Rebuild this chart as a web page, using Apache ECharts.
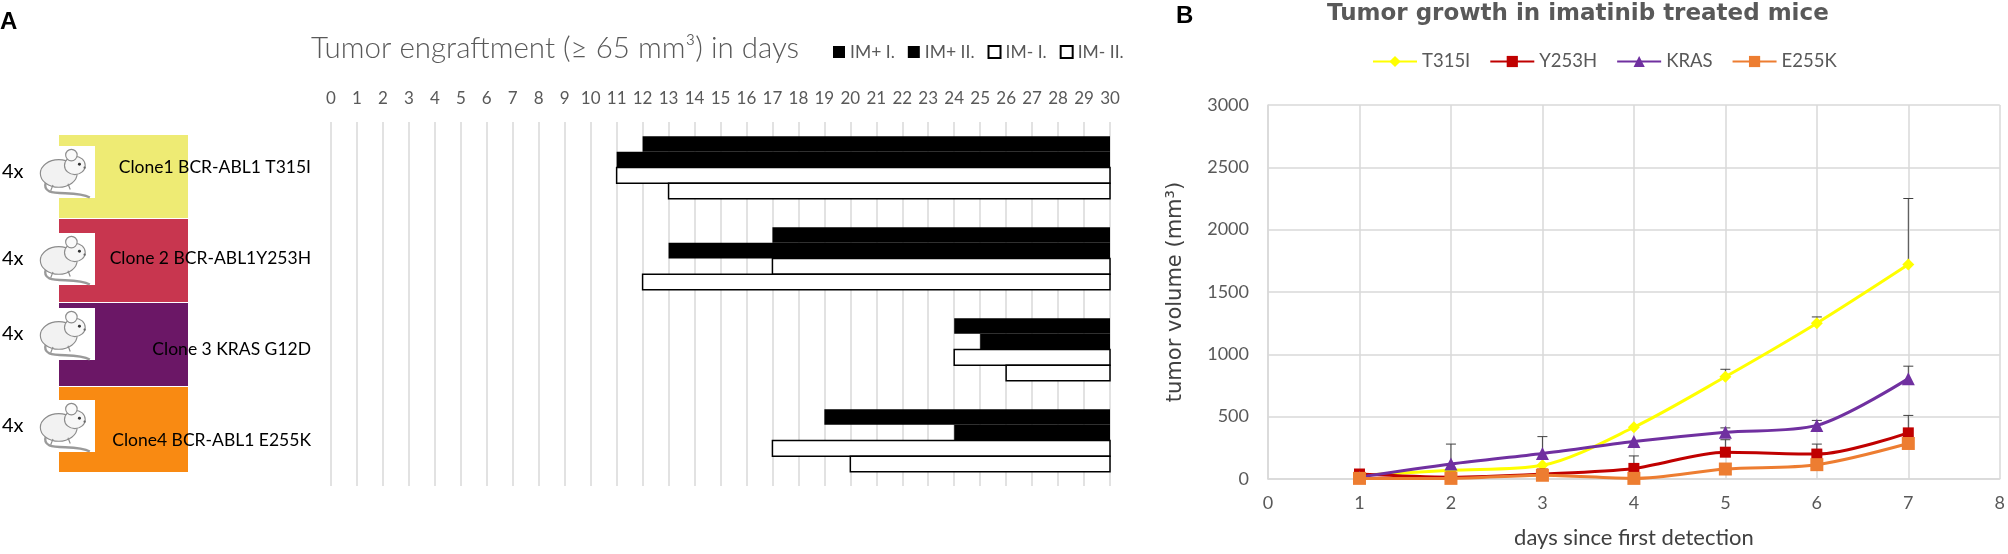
<!DOCTYPE html>
<html>
<head>
<meta charset="utf-8">
<script src="https://cdn.jsdelivr.net/npm/echarts@6/dist/echarts.min.js"></script>
<style>html,body{margin:0;background:#fff}#main{width:2008px;height:554px}</style>
</head>
<body>
<div id="main"></div>
<script>
// Panel A: engraftment day per clone (all bars run to day 30)
const clones = ['Clone1 BCR-ABL1 T315I', 'Clone 2 BCR-ABL1Y253H', 'Clone 3 KRAS G12D', 'Clone4 BCR-ABL1 E255K'];
const imPlusIStart = [12, 17, 24, 19];
const imPlusIIStart = [11, 13, 25, 24];
const imMinusIStart = [11, 17, 24, 17];
const imMinusIIStart = [13, 12, 26, 20];
const engraftEnd = [30, 30, 30, 30];

// Panel B: tumor volume (mm3), mean and upper error
const detectionDays = [1, 2, 3, 4, 5, 6, 7];
const t315i = [30, 70, 110, 415, 820, 1250, 1720];
const t315iErr = [30, 0, 0, 0, 60, 50, 530];
const y253h = [40, 15, 40, 85, 215, 200, 370];
const y253hErr = [20, 0, 0, 100, 100, 80, 140];
const kras = [15, 120, 205, 300, 375, 430, 805];
const krasErr = [0, 160, 135, 0, 35, 40, 100];
const e255k = [5, 5, 30, 5, 80, 115, 285];
const e255kErr = [0, 0, 0, 0, 0, 0, 0];

const grey = '#595959';

function ganttSeries(name, starts, row, filled) {
  return {
    type: 'custom', name: name, xAxisIndex: 0, yAxisIndex: 0,
    data: starts.map((s, i) => [i, s, engraftEnd[i]]),
    encode: {x: [1, 2], y: 0},
    itemStyle: filled ? {color: '#000'} : {color: '#fff', borderColor: '#000', borderWidth: 1.5},
    renderItem: function (params, api) {
      const a = api.coord([api.value(1), api.value(0)]);
      const b = api.coord([api.value(2), api.value(0)]);
      const h = api.size([0, 1])[1] * 0.172;
      return {
        type: 'rect',
        shape: {x: a[0], y: a[1] - 2 * h + row * h, width: b[0] - a[0], height: h},
        style: filled ? {fill: '#000'} : {fill: '#fff', stroke: '#000', lineWidth: 1.5}
      };
    }
  };
}

function lineSeries(name, values, color, symbol, size) {
  return {
    type: 'line', name: name, xAxisIndex: 1, yAxisIndex: 1, z: 3,
    data: detectionDays.map((d, i) => [d, values[i]]),
    smooth: 0.3, symbol: symbol, symbolSize: size,
    lineStyle: {width: 3, color: color}, itemStyle: {color: color}
  };
}

function errSeries(values, errs) {
  return {
    type: 'custom', xAxisIndex: 1, yAxisIndex: 1, silent: true, z: 2,
    data: detectionDays.map((d, i) => [d, values[i], values[i] + errs[i]]),
    encode: {x: 0, y: [1, 2]},
    renderItem: function (params, api) {
      const lo = api.coord([api.value(0), api.value(1)]);
      const hi = api.coord([api.value(0), api.value(2)]);
      if (lo[1] - hi[1] < 1) return null;
      const st = {stroke: '#404040', lineWidth: 1};
      return {type: 'group', children: [
        {type: 'line', shape: {x1: lo[0], y1: lo[1], x2: hi[0], y2: hi[1]}, style: st},
        {type: 'line', shape: {x1: hi[0] - 5, y1: hi[1], x2: hi[0] + 5, y2: hi[1]}, style: st}
      ]};
    }
  };
}

// little lab mouse drawn from shapes
function mouse(x, y) {
  const line = {stroke: '#8c8c8c', lineWidth: 1};
  const parts = [
    {type: 'bezierCurve', shape: {x1: 14, y1: 30, cpx1: 8, cpy1: 46, cpx2: 38, cpy2: 36, x2: 52, y2: 44}, style: {stroke: '#9a9a9a', lineWidth: 2, fill: null}},
    {type: 'ellipse', shape: {cx: 25, cy: 23, rx: 16, ry: 12}, style: Object.assign({fill: '#f2f2f2'}, line)},
    {type: 'line', shape: {x1: 20, y1: 33, x2: 18, y2: 38}, style: line},
    {type: 'line', shape: {x1: 33, y1: 32, x2: 35, y2: 37}, style: line},
    {type: 'ellipse', shape: {cx: 39, cy: 16, rx: 9, ry: 8}, style: Object.assign({fill: '#f7f7f7'}, line)},
    {type: 'circle', shape: {cx: 36, cy: 7, r: 5}, style: Object.assign({fill: '#fafafa'}, line)},
    {type: 'circle', shape: {cx: 43, cy: 15, r: 1.3}, style: {fill: '#333'}},
    {type: 'circle', shape: {cx: 47.5, cy: 18, r: 1}, style: {fill: '#666'}}
  ];
  parts.forEach(p => { p.z = 5; });
  return {type: 'group', x: x, y: y, scaleX: 1.15, scaleY: 1.15, children: parts};
}

const blockColors = ['#eeeb74', '#c8364f', '#6b1766', '#f98a12'];
const blockTops = [135, 219, 303, 387];
const notchTops = [146, 233, 308, 400];
const graphics = [];
blockColors.forEach((c, i) => {
  graphics.push({type: 'rect', z: 1, shape: {x: 59, y: blockTops[i], width: 129, height: i === 3 ? 85 : 83}, style: {fill: c}});
  graphics.push({type: 'rect', z: 2, shape: {x: 59, y: notchTops[i], width: 36, height: 52}, style: {fill: '#fff'}});
  graphics.push(mouse(30, notchTops[i] + 1));
  graphics.push({type: 'text', z: 5, x: 2, y: notchTops[i] + 26, style: {text: '4x', fontSize: 20, fontFamily: 'Lato', fill: '#000', verticalAlign: 'middle'}});
});

const myChart = echarts.init(document.getElementById('main'));

const option = {
  animation: false,
  backgroundColor: '#fff',
  textStyle: {fontFamily: 'Lato'},
  title: [
    {text: 'A', left: 0, top: 10, padding: 0, textStyle: {fontFamily: 'Liberation Sans', fontWeight: 'bold', fontSize: 24, color: '#000'}},
    {text: 'Tumor engraftment (≥ 65 mm³) in days', left: 311, top: 33, padding: 0,
      textStyle: {fontFamily: 'Lato', fontWeight: 300, fontSize: 29.5, color: grey}},
    {text: 'B', left: 1176, top: 4, padding: 0, textStyle: {fontFamily: 'Liberation Sans', fontWeight: 'bold', fontSize: 24, color: '#000'}},
    {text: 'Tumor growth in imatinib treated mice', left: 1327, top: 3, padding: 0,
      textStyle: {fontFamily: 'DejaVu Sans', fontWeight: 'bold', fontSize: 23, color: grey}}
  ],
  legend: [
    {left: 833, top: 43, padding: 0, itemWidth: 12, itemHeight: 12, itemGap: 13,
      textStyle: {fontFamily: 'Lato', fontSize: 17.5, color: grey},
      data: [
        {name: 'IM+ I.', icon: 'rect'}, {name: 'IM+ II.', icon: 'rect'},
        {name: 'IM- I.', icon: 'rect'}, {name: 'IM- II.', icon: 'rect'}
      ]},
    {left: 1372, top: 52, padding: 0, itemWidth: 44, itemHeight: 14, itemGap: 19,
      textStyle: {fontFamily: 'Lato', fontSize: 18.5, color: grey},
      data: ['T315I', 'Y253H', 'KRAS', 'E255K']}
  ],
  grid: [
    {left: 331, top: 122, width: 779, height: 364},
    {left: 1268, top: 105, width: 733, height: 376}
  ],
  xAxis: [
    {gridIndex: 0, type: 'value', position: 'top', min: 0, max: 30, interval: 1,
      axisLine: {show: false}, axisTick: {show: false},
      axisLabel: {margin: 15, fontFamily: 'Lato', fontSize: 17, color: grey},
      splitLine: {show: true, lineStyle: {color: '#d9d9d9', width: 1.5}}},
    {gridIndex: 1, type: 'value', min: 0, max: 8, interval: 1,
      axisLine: {show: true, lineStyle: {color: '#d9d9d9', width: 1.5}}, axisTick: {show: false},
      axisLabel: {margin: 15, fontFamily: 'Lato', fontSize: 18, color: grey},
      splitLine: {show: true, lineStyle: {color: '#d9d9d9', width: 1.5}},
      name: 'days since first detection', nameLocation: 'middle', nameGap: 48,
      nameTextStyle: {fontFamily: 'Lato', fontSize: 22, color: '#404040'}}
  ],
  yAxis: [
    {gridIndex: 0, type: 'category', inverse: true, data: clones, z: 10,
      axisLine: {show: false}, axisTick: {show: false}, splitLine: {show: false},
      axisLabel: {margin: 20, fontFamily: 'Lato', fontSize: 17.5, color: '#000'}},
    {gridIndex: 1, type: 'value', min: 0, max: 3000, interval: 500,
      axisLine: {show: true, lineStyle: {color: '#d9d9d9', width: 1.5}}, axisTick: {show: false},
      axisLabel: {margin: 19, fontFamily: 'Lato', fontSize: 18, color: grey, formatter: v => String(v)},
      splitLine: {show: true, lineStyle: {color: '#d9d9d9', width: 1.5}},
      name: 'tumor volume (mm³)', nameLocation: 'middle', nameGap: 82,
      nameTextStyle: {fontFamily: 'DejaVu Sans', fontSize: 21, color: '#404040'}}
  ],
  graphic: graphics,
  series: [
    ganttSeries('IM+ I.', imPlusIStart, 0, true),
    ganttSeries('IM+ II.', imPlusIIStart, 1, true),
    ganttSeries('IM- I.', imMinusIStart, 2, false),
    ganttSeries('IM- II.', imMinusIIStart, 3, false),
    errSeries(t315i, t315iErr),
    errSeries(y253h, y253hErr),
    errSeries(kras, krasErr),
    errSeries(e255k, e255kErr),
    lineSeries('T315I', t315i, '#ffff00', 'diamond', 12),
    lineSeries('Y253H', y253h, '#c00000', 'rect', 11),
    lineSeries('KRAS', kras, '#7030a0', 'triangle', 13),
    lineSeries('E255K', e255k, '#ed7d31', 'rect', 13)
  ]
};

myChart.setOption(option);
</script>
</body>
</html>
